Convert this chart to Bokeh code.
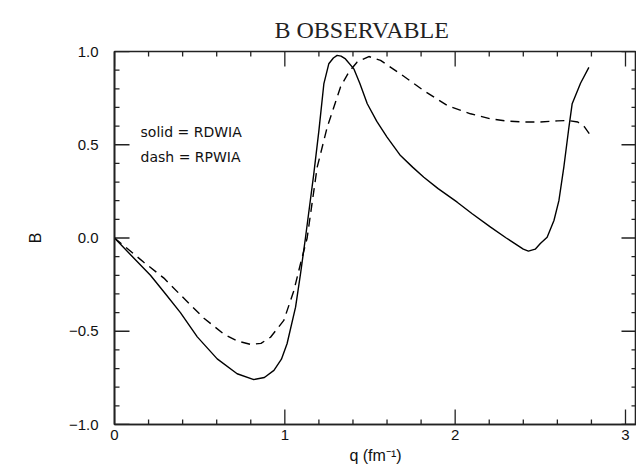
from bokeh.plotting import figure
from bokeh.models import Range1d, FixedTicker, Label
from bokeh.embed import file_html
from bokeh.resources import INLINE

# ---- data ----
q_solid = [0.0, 0.1, 0.211, 0.3, 0.387, 0.486, 0.603, 0.72, 0.818, 0.88, 0.936, 0.98,
           1.013, 1.063, 1.092, 1.121, 1.17, 1.2, 1.229, 1.258, 1.285, 1.307, 1.33, 1.356,
           1.405, 1.44, 1.484, 1.54, 1.6, 1.679, 1.75, 1.816, 1.9, 2.012, 2.1, 2.208, 2.3,
           2.4, 2.43, 2.47, 2.5, 2.54, 2.58, 2.609, 2.638, 2.668, 2.687, 2.736, 2.785]
b_solid = [0.0, -0.095, -0.20, -0.30, -0.40, -0.53, -0.648, -0.728, -0.759, -0.748, -0.71, -0.65,
           -0.567, -0.371, -0.192, 0.0, 0.344, 0.576, 0.826, 0.934, 0.965, 0.979, 0.975, 0.96,
           0.907, 0.83, 0.72, 0.625, 0.541, 0.442, 0.38, 0.326, 0.265, 0.192, 0.13, 0.058, 0.0,
           -0.06, -0.07, -0.06, -0.03, 0.004, 0.094, 0.2, 0.38, 0.595, 0.72, 0.83, 0.915]

q_dash = [0.0, 0.172, 0.29, 0.387, 0.525, 0.642, 0.72, 0.80, 0.86, 0.916, 0.994, 1.053,
          1.092, 1.131, 1.19, 1.249, 1.327, 1.376, 1.425, 1.493, 1.562, 1.679, 1.816, 1.954,
          2.09, 2.208, 2.3, 2.4, 2.5, 2.6, 2.66, 2.72, 2.76, 2.795]
b_dash = [0.0, -0.13, -0.215, -0.305, -0.43, -0.515, -0.552, -0.571, -0.565, -0.532, -0.442, -0.282,
          -0.138, 0.0, 0.38, 0.595, 0.81, 0.89, 0.944, 0.973, 0.952, 0.88, 0.79, 0.71,
          0.666, 0.639, 0.627, 0.622, 0.622, 0.628, 0.63, 0.622, 0.595, 0.55]

x_ticks = [0, 1, 2, 3]
x_minor = [0.2, 0.4, 0.6, 0.8, 1.2, 1.4, 1.6, 1.8, 2.2, 2.4, 2.6, 2.8]
y_ticks = [-1.0, -0.5, 0.0, 0.5, 1.0]
y_tick_labels = ["\u22121.0", "\u22120.5", "0.0", "0.5", "1.0"]
y_minor = [-0.9, -0.8, -0.7, -0.6, -0.4, -0.3, -0.2, -0.1, 0.1, 0.2, 0.3, 0.4, 0.6, 0.7, 0.8, 0.9]

title_text = "B OBSERVABLE"
x_label = "q (fm\u207b\u00b9)"
y_label = "B"
legend_solid = "solid = RDWIA"
legend_dash = "dash = RPWIA"

X0, X1, Y0, Y1 = 0.0, 3.0646, -1.0, 1.0
FRAME_W, FRAME_H = 522, 373

# ---- figure ----
p = figure(width=636, height=467, output_backend="svg", toolbar_location=None,
           x_range=Range1d(X0, X1), y_range=Range1d(Y0, Y1),
           min_border_left=114, min_border_right=0, min_border_top=51, min_border_bottom=43)
p.grid.visible = False
p.outline_line_color = "#222222"
p.outline_line_width = 1.6
p.background_fill_color = "white"
p.border_fill_color = "white"

p.title.text = title_text
p.title.text_font = "Liberation Serif"
p.title.text_font_size = "24px"
p.title.text_font_style = "normal"
p.title.text_color = "#222222"
p.title.align = "left"
p.title.offset = 160
p.title.standoff = 13
p.title.vertical_align = "top"

AX = "#222222"
for ax, ticks in [(p.xaxis[0], x_ticks), (p.yaxis[0], y_ticks)]:
    ax.ticker = FixedTicker(ticks=ticks, minor_ticks=[])
    ax.axis_line_color = AX
    ax.axis_line_width = 1.6
    ax.major_tick_in = 0
    ax.major_tick_out = 0
    ax.minor_tick_in = 0
    ax.minor_tick_out = 0
    ax.major_tick_line_color = None
    ax.minor_tick_line_color = None
    ax.major_label_text_font = "Liberation Sans"
    ax.major_label_text_font_size = "15px"
    ax.major_label_text_color = "#111111"
    ax.axis_label_text_font = "Liberation Sans"
    ax.axis_label_text_font_size = "16px"
    ax.axis_label_text_font_style = "normal"
    ax.axis_label_text_color = "#111111"

xa = p.xaxis[0]
xa.axis_label = x_label
xa.major_label_standoff = 5
xa.axis_label_standoff = 4

ya = p.yaxis[0]
ya.major_label_overrides = dict(zip(y_ticks, y_tick_labels))
ya.axis_label = y_label
ya.major_label_standoff = 16
ya.axis_label_standoff = 22

# inward ticks on all four sides (lengths in px converted to data units)
px_x = (X1 - X0) / FRAME_W
px_y = (Y1 - Y0) / FRAME_H
MAJ, MIN = 15, 5
tick_kw = dict(line_color=AX, line_width=1.3)
for ticks, L in [(x_ticks, MAJ), (x_minor, MIN)]:
    p.segment(x0=ticks, y0=[Y0] * len(ticks), x1=ticks, y1=[Y0 + L * px_y] * len(ticks), **tick_kw)
    p.segment(x0=ticks, y0=[Y1] * len(ticks), x1=ticks, y1=[Y1 - L * px_y] * len(ticks), **tick_kw)
for ticks, L in [(y_ticks, MAJ), (y_minor, MIN)]:
    p.segment(x0=[X0] * len(ticks), y0=ticks, x1=[X0 + L * px_x] * len(ticks), y1=ticks, **tick_kw)
    p.segment(x0=[X1] * len(ticks), y0=ticks, x1=[X1 - L * px_x] * len(ticks), y1=ticks, **tick_kw)

p.line(q_solid, b_solid, line_color="black", line_width=1.4)
p.line(q_dash, b_dash, line_color="black", line_width=1.4, line_dash="9 6")

for txt, yv in [(legend_solid, 0.571), (legend_dash, 0.432)]:
    p.add_layout(Label(x=0.153, y=yv, text=txt, text_font="DejaVu Sans",
                       text_font_size="14px", text_baseline="middle", text_color="#111111"))

open("out.html", "w").write(file_html(p, INLINE))
